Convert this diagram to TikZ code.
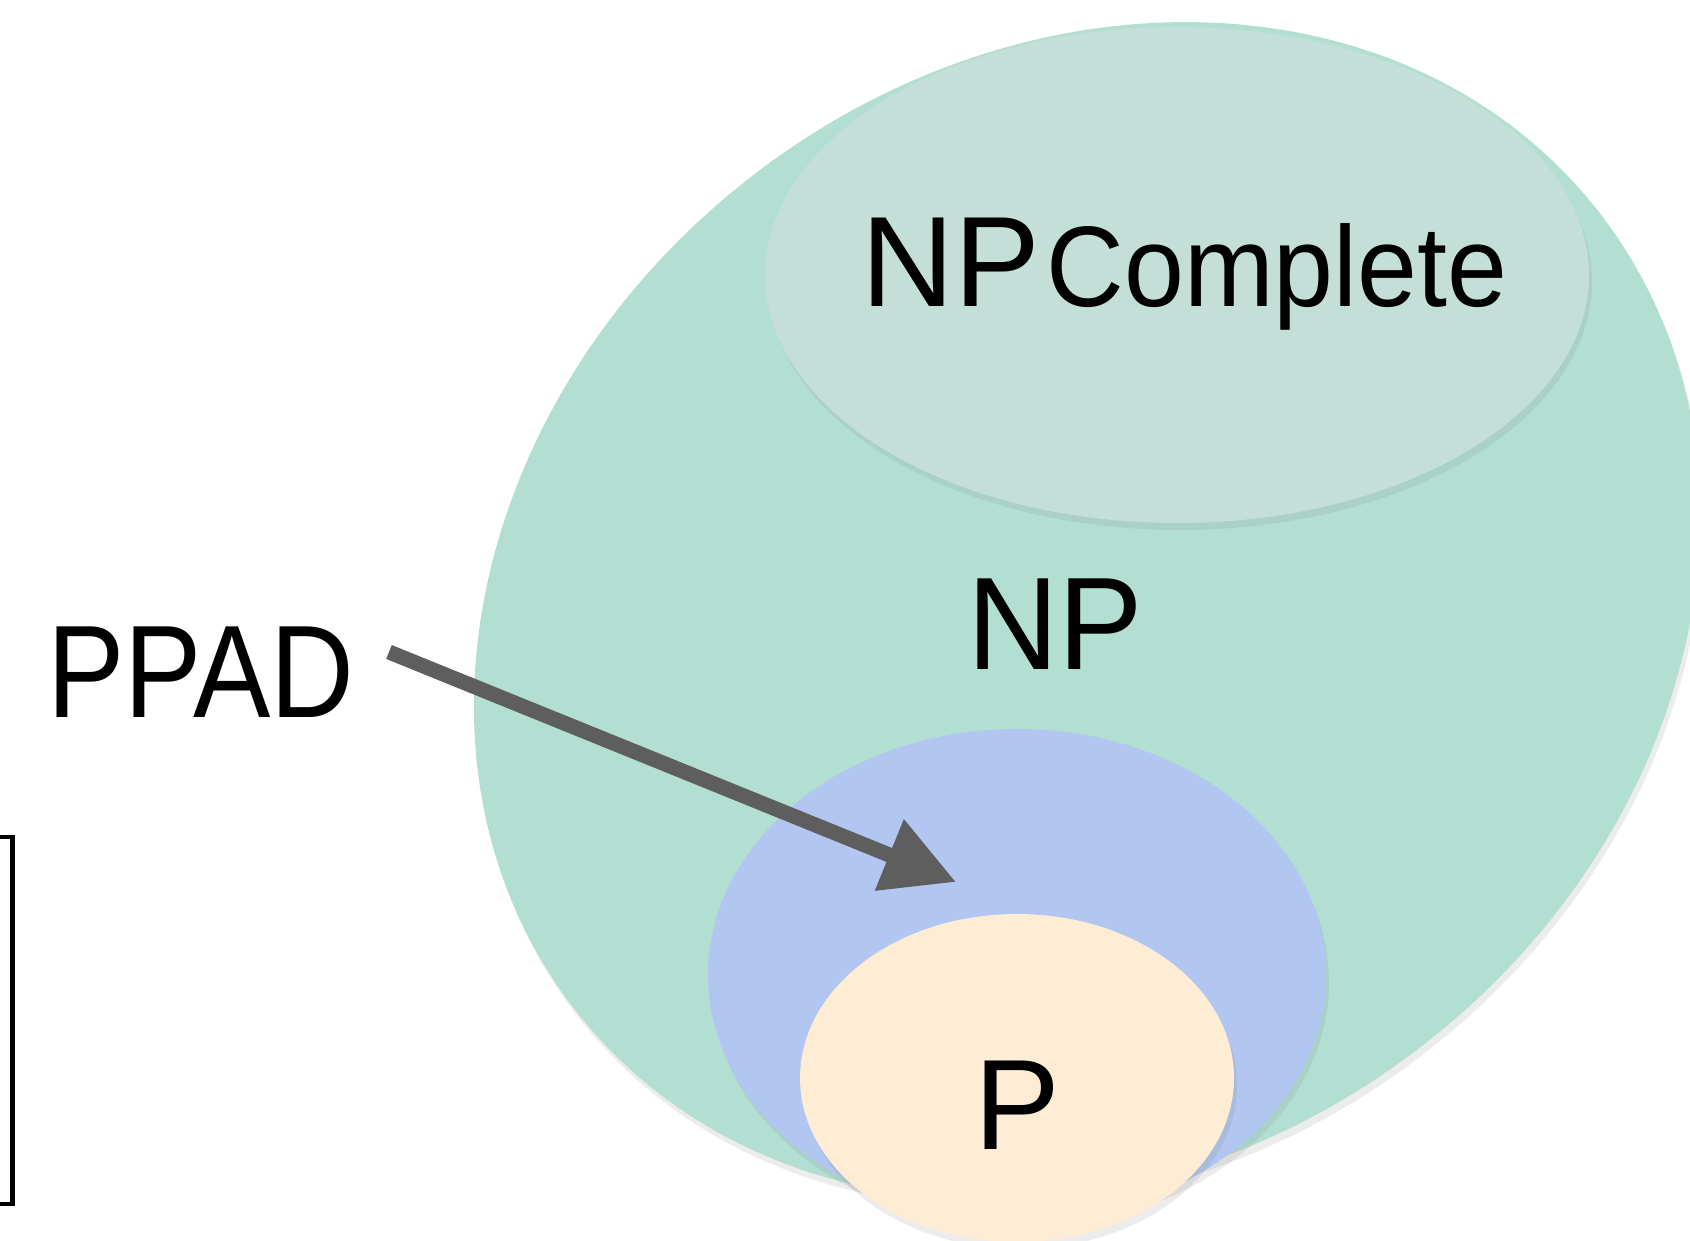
\documentclass[tikz,border=0pt]{standalone}
\usepackage{fontspec}
\setmainfont{Liberation Sans}
\usepackage{xcolor}
\usetikzlibrary{shapes.geometric,shadows,arrows.meta}

\definecolor{npgreen}{HTML}{B3DFD2}
\definecolor{npcgreen}{HTML}{C4DFD7}
\definecolor{ppadblue}{HTML}{B1C6F0}
\definecolor{pcream}{HTML}{FEECD5}
\definecolor{arrowgray}{HTML}{5E5E5E}

\begin{document}
\begin{tikzpicture}
      \tikzstyle{setnode} = [ellipse, draw=none, inner sep = 0pt, drop shadow={opacity=0.15, shadow xshift=0.3mm, shadow yshift=-0.7mm}]
      \tikzstyle{lnode} = [inner sep = 0pt, font=\fontsize{36.6}{40}\selectfont]

      \useasboundingbox (0,0) rectangle (16.9,12.4);
      \clip (0,0) rectangle (16.9,12.4);

      % the classes
      \node[setnode, fill=npgreen, minimum width=12.98cm, minimum height=10.98cm, rotate=38] (npset) at (10.87, 6.29) {};
      \node[setnode, fill=npcgreen, minimum width=8.24cm, minimum height=4.96cm] (npcset) at (11.77, 9.65) {};
      \node[setnode, fill=ppadblue, minimum width=6.18cm, minimum height=4.92cm] (ppadset) at (10.17, 2.65) {};
      \node[setnode, fill=pcream, minimum width=4.34cm, minimum height=3.28cm] (pset) at (10.17, 1.62) {};

      % labels
      \node[lnode, font=\fontsize{37.5}{40}\selectfont, xscale=0.96] (np) at (10.55, 6.16) {NP};
      \node[lnode] (p) at (10.17, 1.35) {P};
      \node[lnode, anchor=base] (npcnp) at (9.51, 9.34) {NP};
      \node[lnode, anchor=base, font=\fontsize{32.6}{36}\selectfont, xscale=0.94] (npccomplete) at (12.77, 9.34) {Complete};
      \node[lnode, font=\fontsize{37.5}{40}\selectfont, xscale=0.88] (ppad) at (2.01, 5.68) {PPAD};

      % connections
      \coordinate (ppadtail) at (3.89, 5.88);
      \coordinate (ppadtip) at (9.56, 3.58);
      \draw[draw=arrowgray, fill=arrowgray, line width=0.15cm, -{Triangle[length=7.2mm, width=7.3mm]}] (ppadtail) to (ppadtip);

      \draw[line width=1.4pt] (0, 4.03) -- (0.127, 4.03) -- (0.127, 0.36) -- (0, 0.36);
\end{tikzpicture}
\end{document}
